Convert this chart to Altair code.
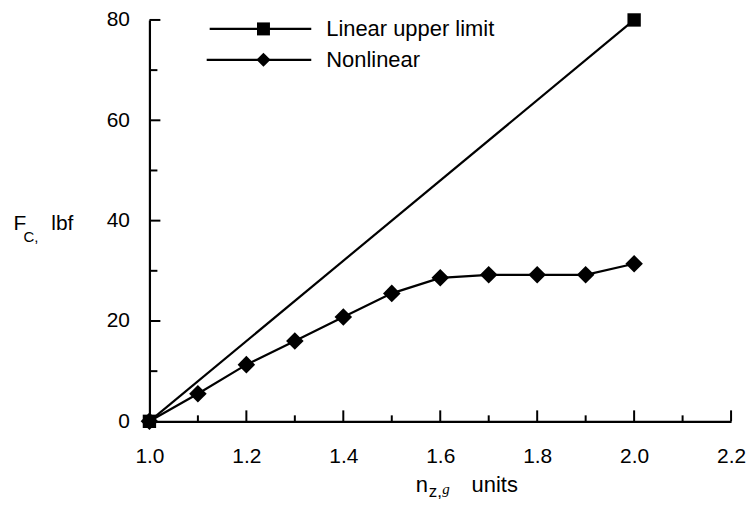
import altair as alt
import pandas as pd

# ---- data ----
nz = [1.0, 1.1, 1.2, 1.3, 1.4, 1.5, 1.6, 1.7, 1.8, 1.9, 2.0]
fc_nonlinear = [0.0, 5.5, 11.3, 16.0, 20.8, 25.5, 28.6, 29.2, 29.2, 29.2, 31.4]
nz_linear = [1.0, 2.0]
fc_linear = [0.0, 80.0]
x_labels = [1.0, 1.2, 1.4, 1.6, 1.8, 2.0, 2.2]
x_major = [1.2, 1.4, 1.6, 1.8, 2.0, 2.2]
x_minor = [1.1, 1.3, 1.5, 1.7, 1.9, 2.1]
y_labels = [0, 20, 40, 60, 80]
y_major = [20, 40, 60, 80]
y_minor = [10, 30, 50, 70]
series_names = ["Linear upper limit", "Nonlinear"]

W, H = 584, 403
FONT = "Liberation Sans"
SW = 2.2

xs = alt.Scale(domain=[1.0, 2.2], nice=False, zero=False)
ys = alt.Scale(domain=[0, 80], nice=False, zero=False)

xaxis = alt.Axis(values=x_labels, format=".1f", ticks=False, tickSize=0, grid=False,
                 title=None, domainColor="black", domainWidth=2.2, labelFont=FONT,
                 labelFontSize=21, labelColor="black", labelPadding=24,
                 labelFlush=False, labelOverlap=False)
yaxis = alt.Axis(values=y_labels, format="d", ticks=False, tickSize=0, grid=False,
                 title=None, domainColor="black", domainWidth=2.2, labelFont=FONT,
                 labelFontSize=21, labelColor="black", labelPadding=20,
                 labelFlush=False, labelOverlap=False)

nonlin_df = pd.DataFrame({"nz": nz, "fc": fc_nonlinear})
lin_df = pd.DataFrame({"nz": nz_linear, "fc": fc_linear})

X = alt.X("nz:Q", scale=xs, axis=xaxis)
Y = alt.Y("fc:Q", scale=ys, axis=yaxis)

lin_line = alt.Chart(lin_df).mark_line(color="black", strokeWidth=SW).encode(x=X, y=Y)
lin_pts = alt.Chart(lin_df).mark_point(shape="square", filled=True, size=180,
                                       color="black", opacity=1).encode(x=X, y=Y)
nl_line = alt.Chart(nonlin_df).mark_line(color="black", strokeWidth=SW).encode(x=X, y=Y)
nl_pts = alt.Chart(nonlin_df).mark_point(shape="diamond", filled=True, size=310,
                                         color="black", opacity=1).encode(x=X, y=Y)

# inward tick marks
ymaj = alt.Chart(pd.DataFrame({"fc": y_major})).mark_rule(color="black", strokeWidth=2).encode(
    y=Y, x=alt.value(0), x2=alt.value(11))
ymin = alt.Chart(pd.DataFrame({"fc": y_minor})).mark_rule(color="black", strokeWidth=2).encode(
    y=Y, x=alt.value(0), x2=alt.value(8))
xmaj = alt.Chart(pd.DataFrame({"nz": x_major})).mark_rule(color="black", strokeWidth=2).encode(
    x=X, y=alt.value(H), y2=alt.value(H - 11))
xmin = alt.Chart(pd.DataFrame({"nz": x_minor})).mark_rule(color="black", strokeWidth=2).encode(
    x=X, y=alt.value(H), y2=alt.value(H - 6))


def txt(t, x, y, size, font=FONT, style="normal"):
    return alt.Chart(pd.DataFrame({"t": [t]})).mark_text(
        align="left", baseline="alphabetic", font=font, fontSize=size,
        fontStyle=style, color="black").encode(
        x=alt.value(x), y=alt.value(y), text="t:N")


def legtxt(t, x, y):
    return alt.Chart(pd.DataFrame({"t": [t]})).mark_text(
        align="left", baseline="middle", font=FONT, fontSize=22, color="black").encode(
        x=alt.value(x), y=alt.value(y), text="t:N")


one = pd.DataFrame({"k": [0]})
leg1_line = alt.Chart(one).mark_rule(color="black", strokeWidth=SW).encode(
    x=alt.value(60.5), x2=alt.value(162.5), y=alt.value(9))
leg1_pt = alt.Chart(one).mark_point(shape="square", filled=True, size=170, color="black",
                                    opacity=1).encode(x=alt.value(114.5), y=alt.value(9))
leg2_line = alt.Chart(one).mark_rule(color="black", strokeWidth=SW).encode(
    x=alt.value(57.5), x2=alt.value(162.5), y=alt.value(40))
leg2_pt = alt.Chart(one).mark_point(shape="diamond", filled=True, size=200, color="black",
                                    opacity=1).encode(x=alt.value(114.5), y=alt.value(40))

titles = [
    txt("F", -136.5, 211, 21),
    txt("C,", -126.5, 223, 15),
    txt("lbf", -98.5, 211, 21),
    txt("n", 267.5, 474, 22),
    txt("z,", 280.5, 479, 17),
    txt("g", 294, 476, 15, font="Liberation Serif", style="italic"),
    txt("units", 323.5, 474, 22),
]

chart = alt.layer(
    lin_line, nl_line, ymaj, ymin, xmaj, xmin, lin_pts, nl_pts,
    leg1_line, leg1_pt, leg2_line, leg2_pt,
    legtxt(series_names[0], 177.5, 9), legtxt(series_names[1], 177.5, 40),
    *titles,
).properties(
    width=W, height=H,
    padding={"left": 142, "top": 11, "right": 16, "bottom": 80},
    autosize="none",
).configure_view(strokeOpacity=0)

chart.save("out.html", embed_options={"renderer": "svg", "actions": False})
